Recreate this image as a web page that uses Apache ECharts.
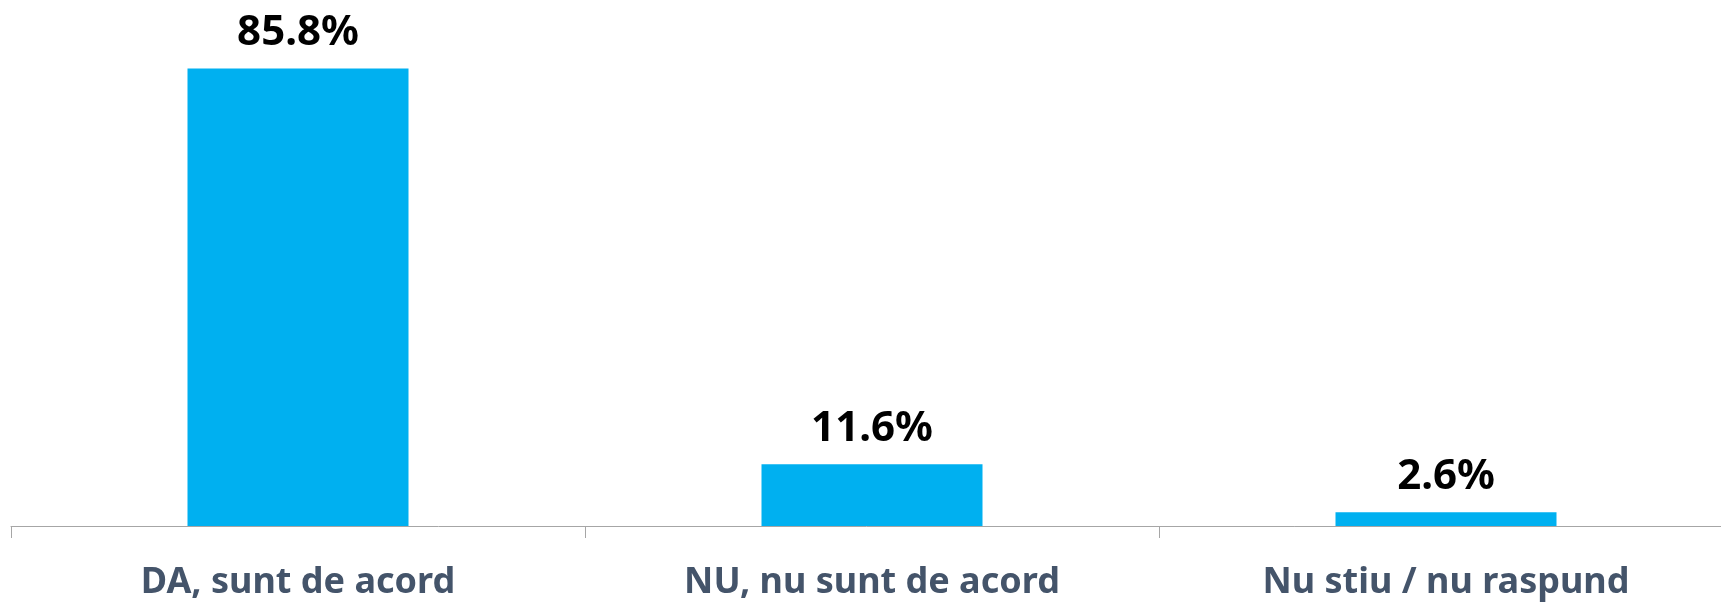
<!DOCTYPE html>
<html style="height: 100%">
<head>
<meta charset="utf-8">
</head>
<body style="height: 100%; margin: 0; background: #fff">
<div id="container" style="width:1721px;height:602px"></div>
<script src="https://cdn.jsdelivr.net/npm/echarts@6.0.0/dist/echarts.min.js"></script>
<script type="text/javascript">
var categories = ['DA, sunt de acord', 'NU, nu sunt de acord', 'Nu stiu / nu raspund'];
var values = [85.8, 11.6, 2.6];

var chart = echarts.init(document.getElementById('container'));

var option = {
    animation: false,
    grid: { left: 11, top: 46, width: 1722, height: 480, outerBoundsMode: 'none', containLabel: false },
    xAxis: {
        type: 'category',
        data: categories,
        axisLine: { lineStyle: { color: '#a6a6a6', width: 1 } },
        axisTick: { show: true, length: 12, lineStyle: { color: '#a6a6a6' } },
        axisLabel: {
            interval: 0,
            margin: 39,
            color: '#44546a',
            fontFamily: 'Noto Sans',
            fontWeight: 'bold',
            fontSize: 36
        }
    },
    yAxis: {
        type: 'value',
        min: 0,
        max: 90,
        show: false,
        splitLine: { show: false }
    },
    series: [{
        type: 'bar',
        data: values,
        barWidth: 221,
        itemStyle: { color: '#00b0f0' },
        label: {
            show: true,
            position: 'top',
            distance: 14,
            formatter: function (p) { return p.value.toFixed(1) + '%'; },
            color: '#000',
            fontFamily: 'Noto Sans',
            fontWeight: 'bold',
            fontSize: 42
        }
    }]
};

chart.setOption(option);
</script>
</body>
</html>
